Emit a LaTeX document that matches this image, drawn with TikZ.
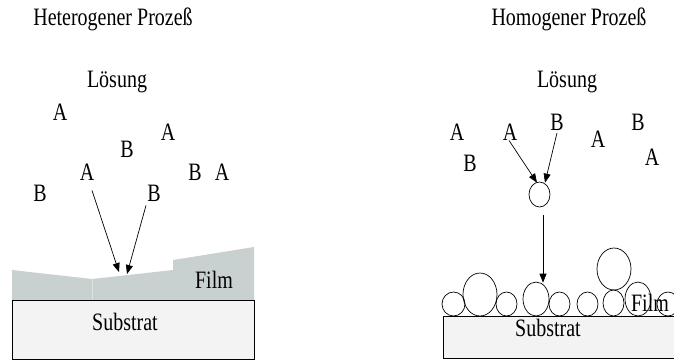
\documentclass[tikz,border=0pt]{standalone}
\usepackage{fontspec}
\setmainfont{Liberation Serif}
\newfontfamily\tallfont[FakeStretch=0.8]{Liberation Serif}
\usetikzlibrary{arrows.meta,shapes.geometric}
\definecolor{filmgray}{HTML}{C9D1D0}
\definecolor{filmline}{HTML}{DCE2E1}
\definecolor{subgray}{HTML}{F2F3F2}
\begin{document}
\begin{tikzpicture}[x=1pt,y=-1pt,
  lbl/.style={font=\tallfont\fontsize{25}{30}\selectfont, inner sep=0pt},
  ttl/.style={lbl, anchor=base},
  arr/.style={-{Triangle[length=9pt,width=7pt]}, line width=0.7pt},
  grain/.style={draw, ellipse, inner sep=0pt, line width=0.7pt},
  sub/.style={draw, line width=0.8pt, fill=subgray}
]
\useasboundingbox (0,0) rectangle (674,360);
\clip (0,0) rectangle (674,360);

% ---------- left: heterogeneous ----------
\node[ttl] (tl) at (113,25) {Heterogener Prozeß};
\node[ttl] (sl) at (117,87) {Lösung};

\node[lbl] (hA1) at (60,112) {A};
\node[lbl] (hA2) at (168,132) {A};
\node[lbl] (hB3) at (127,149) {B};
\node[lbl] (hA4) at (87,172) {A};
\node[lbl] (hB5) at (195,172) {B};
\node[lbl] (hA6) at (222,172) {A};
\node[lbl] (hB7) at (40,193) {B};
\node[lbl] (hB8) at (154,193) {B};

\fill[filmgray] (12,300) -- (12,270) -- (92,279) -- (173,270) -- (173,260)
  -- (254,247) -- (254,300) -- cycle;
\draw[filmline, line width=0.6pt] (92,279) -- (92,300);
\draw[sub] (12,300) rectangle (254,359);
\node[lbl] (filmL) at (214,280) {Film};
\node[lbl] (subL) at (125,321.5) {Substrat};

\coordinate (t1) at (119,272);
\coordinate (t2) at (127,274);
\draw[arr] ([xshift=5pt,yshift=-10pt]hA4.south) -- (t1);
\draw[arr] ([xshift=-8pt,yshift=-4pt]hB8.south) -- (t2);

% ---------- right: homogeneous ----------
\node[ttl] (tr) at (569,25) {Homogener Prozeß};
\node[ttl] (sr) at (567,87) {Lösung};

\node[lbl] (rA1) at (457,132) {A};
\node[lbl] (rA2) at (510,132) {A};
\node[lbl] (rB3) at (557,122) {B};
\node[lbl] (rA4) at (598,139) {A};
\node[lbl] (rB5) at (638,122) {B};
\node[lbl] (rA6) at (652,157) {A};
\node[lbl] (rB7) at (470,163) {B};

\node[grain, minimum width=21pt, minimum height=25pt] (drop) at (539.5,194.5) {};

\draw[sub] (443,316) rectangle (690,358.5);

\node[grain, minimum width=23pt, minimum height=24pt] (g1) at (453.5,304) {};
\node[grain, minimum width=34pt, minimum height=43pt] (g2) at (480,294.5) {};
\node[grain, minimum width=21pt, minimum height=24pt] (g3) at (506.5,304) {};
\node[grain, minimum width=26pt, minimum height=34pt] (c4) at (536,299) {};
\node[grain, minimum width=21pt, minimum height=24pt] (g5) at (559.5,304) {};
\node[grain, minimum width=21pt, minimum height=24pt] (g6) at (587.5,304) {};
\node[grain, minimum width=21pt, minimum height=26pt] (g7) at (613.5,303) {};
\node[grain, minimum width=34pt, minimum height=42pt] (g8) at (614,269) {};
\node[grain, minimum width=26pt, minimum height=34pt] (g9) at (638,299) {};
\node[grain, minimum width=22pt, minimum height=24pt] (g10) at (668,304) {};

\node[lbl] (filmR) at (650,303) {Film};
\node[lbl] (subR) at (548,328) {Substrat};

\draw[arr] ([xshift=-1pt,yshift=0pt]rA2.south) -- ([xshift=-2.5pt,yshift=-1pt]drop.north);
\draw[arr] ([yshift=-2.5pt]rB3.south) -- ([xshift=5.5pt,yshift=-1pt]drop.north);
\draw[arr] ([xshift=3.5pt,yshift=-7.5pt]drop.south) -- ([xshift=7pt,yshift=-1pt]c4.north);
\end{tikzpicture}
\end{document}
